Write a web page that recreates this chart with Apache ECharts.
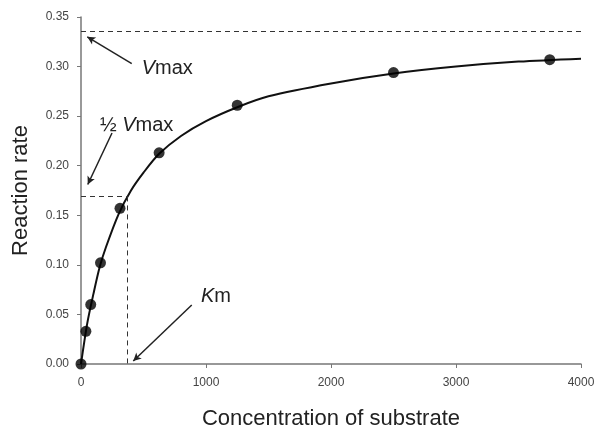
<!DOCTYPE html>
<html>
<head>
<meta charset="utf-8">
<script src="https://cdn.jsdelivr.net/npm/echarts@6/dist/echarts.min.js"></script>
<style>
html,body{margin:0;padding:0;background:#fff;}
#c{width:595px;height:428px;}
</style>
</head>
<body>
<div id="c"></div>
<script>
// Measured data points
const substrate = [0, 39, 78, 156, 312, 625, 1250, 2500, 3750];
const rate = [0, 0.033, 0.060, 0.102, 0.157, 0.213, 0.261, 0.294, 0.307];
// Fitted curve
const curveX = [0, 50, 100, 150, 200, 300, 400, 500, 625, 800, 1000, 1250, 1500, 2000, 2500, 3000, 3500, 4000];
const curveY = [0, 0.041, 0.071, 0.098, 0.118, 0.151, 0.175, 0.193, 0.212, 0.230, 0.245, 0.259, 0.270, 0.283, 0.293, 0.300, 0.305, 0.308];
// Reference levels
const vmax = 0.336;
const halfVmax = 0.169;
const km = 366;
// Axis ticks
const xTicks = [0, 1000, 2000, 3000, 4000];
const yTicks = [0, 0.05, 0.10, 0.15, 0.20, 0.25, 0.30, 0.35];
// Annotation anchors (data space)
const vmaxArrow = [[406, 0.303], [50, 0.330]];
const halfArrow = [[248, 0.233], [54, 0.181]];
const kmArrow = [[886, 0.0595], [418, 0.003]];
const vmaxText = [690, 0.298];
const halfText = [445, 0.241];
const kmText = [1080, 0.068];

const FONT = 'Liberation Sans, Arial, sans-serif';
const chart = echarts.init(document.getElementById('c'), null, {renderer: 'canvas'});

const dashStyle = {color: '#333', width: 1, type: [5, 4]};
const arrowStyle = {color: '#222', width: 1.5, type: 'solid'};
const rich = {
  i: {fontStyle: 'italic', fontSize: 20, color: '#222', fontFamily: FONT},
  n: {fontSize: 20, color: '#222', fontFamily: FONT}
};

const option = {
  animation: false,
  backgroundColor: '#fff',
  grid: {left: 81, right: 14, top: 17, bottom: 64, containLabel: false, outerBoundsMode: 'none'},
  xAxis: {
    type: 'value', min: xTicks[0], max: xTicks[xTicks.length - 1], interval: 1000,
    name: 'Concentration of substrate', nameLocation: 'middle', nameGap: 44,
    nameTextStyle: {fontSize: 22, color: '#222', fontFamily: FONT},
    axisLine: {show: true, onZero: false, lineStyle: {color: '#777', width: 1.5}},
    axisTick: {show: true, length: 4, inside: false, lineStyle: {color: '#777'}},
    axisLabel: {fontSize: 12, color: '#444', margin: 13, fontFamily: FONT,
      formatter: v => String(v)},
    splitLine: {show: false}
  },
  yAxis: {
    type: 'value', min: yTicks[0], max: yTicks[yTicks.length - 1], interval: 0.05,
    name: 'Reaction rate', nameLocation: 'middle', nameGap: 49,
    nameTextStyle: {fontSize: 22, color: '#222', fontFamily: FONT},
    axisLine: {show: true, onZero: false, lineStyle: {color: '#777', width: 1.5}},
    axisTick: {show: true, length: 4, inside: false, lineStyle: {color: '#777'}},
    axisLabel: {fontSize: 12, color: '#444', margin: 12, fontFamily: FONT,
      formatter: v => v.toFixed(2)},
    splitLine: {show: false}
  },
  series: [
    {
      type: 'line', name: 'fit', smooth: 0.3, showSymbol: false, z: 3,
      data: curveX.map((x, i) => [x, curveY[i]]),
      lineStyle: {color: '#111', width: 2},
      markLine: {
        silent: true, symbol: ['none', 'none'], animation: false,
        label: {show: false},
        lineStyle: dashStyle,
        data: [
          [{coord: [0, vmax]}, {coord: [4000, vmax]}],
          [{coord: [0, halfVmax]}, {coord: [km, halfVmax]}],
          [{coord: [km, halfVmax]}, {coord: [km, 0]}]
        ]
      }
    },
    {
      type: 'line', name: 'arrows', data: [], z: 4,
      markLine: {
        silent: true, symbol: ['none', 'arrow'], symbolSize: [6, 8], animation: false,
        label: {show: false},
        lineStyle: arrowStyle,
        data: [
          [{coord: vmaxArrow[0]}, {coord: vmaxArrow[1]}],
          [{coord: halfArrow[0]}, {coord: halfArrow[1]}],
          [{coord: kmArrow[0]}, {coord: kmArrow[1]}]
        ]
      },
      markPoint: {
        silent: true, symbol: 'circle', symbolSize: 0, animation: false,
        label: {show: true, position: 'inside', rich: rich},
        data: [
          {coord: vmaxText, label: {formatter: '{i|V}{n|max}'}},
          {coord: halfText, label: {formatter: '{n|½ }{i|V}{n|max}'}},
          {coord: kmText, label: {formatter: '{i|K}{n|m}'}}
        ]
      }
    },
    {
      type: 'scatter', name: 'data', z: 5,
      data: substrate.map((x, i) => [x, rate[i]]),
      symbol: 'circle', symbolSize: 11,
      itemStyle: {color: '#000'}
    }
  ]
};
chart.setOption(option);
</script>
</body>
</html>
